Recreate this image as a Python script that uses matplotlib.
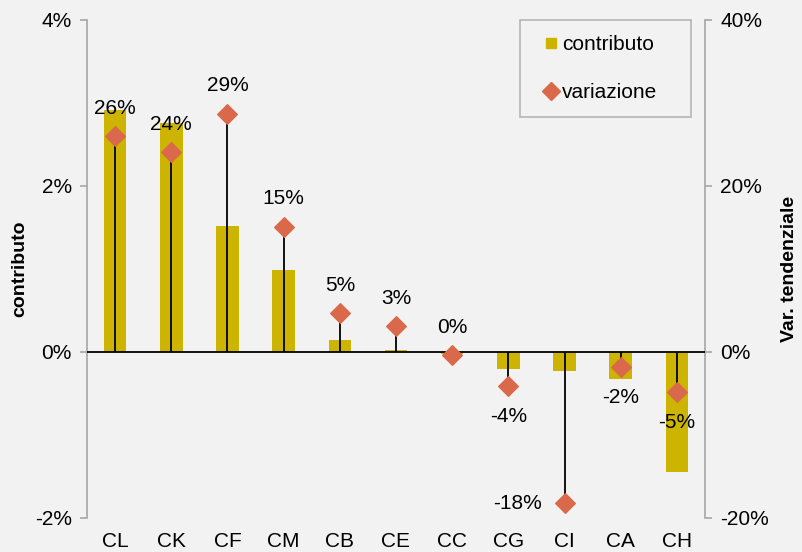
import numpy as np
import matplotlib.pyplot as plt
from matplotlib.lines import Line2D
from matplotlib.ticker import FuncFormatter

plt.rcParams['font.family'] = ['Liberation Sans', 'DejaVu Sans']

# dati
categorie = ['CL', 'CK', 'CF', 'CM', 'CB', 'CE', 'CC', 'CG', 'CI', 'CA', 'CH']
contributo = [2.92, 2.76, 1.52, 0.99, 0.14, 0.03, -0.03, -0.20, -0.23, -0.33, -1.45]
variazione = [26.0, 24.1, 28.7, 15.1, 4.7, 3.1, -0.4, -4.1, -18.2, -1.8, -4.8]
etichette = ['26%', '24%', '29%', '15%', '5%', '3%', '0%', '-4%', '-18%', '-2%', '-5%']

col_barre = '#ccb400'
col_punti = '#d9694a'
sfondo = '#f2f2f2'
grigio = '#a6a6a6'
fs = 15

fig = plt.figure(figsize=(8.02, 5.52), dpi=100, facecolor=sfondo)
ax = fig.add_axes([0.1085, 0.0616, 0.7705, 0.9022])
ax.set_facecolor(sfondo)
x = np.arange(len(categorie))

ax.bar(x, contributo, width=0.4, color=col_barre, zorder=2)
ax.set_ylim(-2, 4)
ax.set_xlim(-0.5, len(categorie) - 0.5)
ax.set_yticks([-2, 0, 2, 4])
ax.yaxis.set_major_formatter(FuncFormatter(lambda v, p: f'{v:.0f}%'))
ax.set_xticks(x)
ax.set_xticklabels(categorie)
ax.tick_params(axis='x', length=0, pad=10, labelsize=fs)
ax.tick_params(axis='y', length=5, color=grigio, width=1.2, labelsize=fs, pad=6)
ax.set_ylabel('contributo', fontsize=14, fontweight='bold', labelpad=5)
for s in ['top', 'right', 'bottom']:
    ax.spines[s].set_visible(False)
ax.spines['left'].set_color(grigio)
ax.spines['left'].set_linewidth(1.2)

ax2 = ax.twinx()
ax2.set_ylim(-20, 40)
ax2.set_yticks([-20, 0, 20, 40])
ax2.yaxis.set_major_formatter(FuncFormatter(lambda v, p: f'{v:.0f}%'))
ax2.tick_params(axis='y', length=5, color=grigio, width=1.2, labelsize=fs, pad=6)
ax2.set_ylabel('Var. tendenziale', fontsize=14, fontweight='bold', labelpad=9)
for s in ['top', 'left', 'bottom']:
    ax2.spines[s].set_visible(False)
ax2.spines['right'].set_color(grigio)
ax2.spines['right'].set_linewidth(1.2)

ax2.axhline(0, color='black', lw=1.3, zorder=3)
ax2.vlines(x, 0, variazione, color='black', lw=1.3, zorder=3)
ax2.scatter(x, variazione, marker='D', s=100, color=col_punti, zorder=4)

for i, (v, t) in enumerate(zip(variazione, etichette)):
    if categorie[i] == 'CI':
        off = (-34, 0)
    elif v >= 0 or categorie[i] == 'CC':
        off = (0, 20)
    else:
        off = (0, -22)
    ax2.annotate(t, (i, v), xytext=off, textcoords='offset points',
                 ha='center', va='center', fontsize=fs)

maniglie = [
    Line2D([], [], marker='s', linestyle='none', color=col_barre, markersize=7),
    Line2D([], [], marker='D', linestyle='none', color=col_punti, markersize=9),
]
leg = fig.legend(maniglie, ['contributo', 'variazione'], loc='upper left',
                 bbox_to_anchor=(520 / 802, 1 - 117 / 552, 171 / 802, 97 / 552),
                 mode='expand', fontsize=fs,
                 frameon=True, fancybox=False, labelspacing=1.4,
                 handletextpad=-0.25, handlelength=1.54, borderpad=0.72,
                 borderaxespad=0)
leg.get_frame().set_edgecolor(grigio)
leg.get_frame().set_facecolor(sfondo)
leg.get_frame().set_linewidth(1.2)

fig.savefig('out.png', dpi=100, facecolor=sfondo)
